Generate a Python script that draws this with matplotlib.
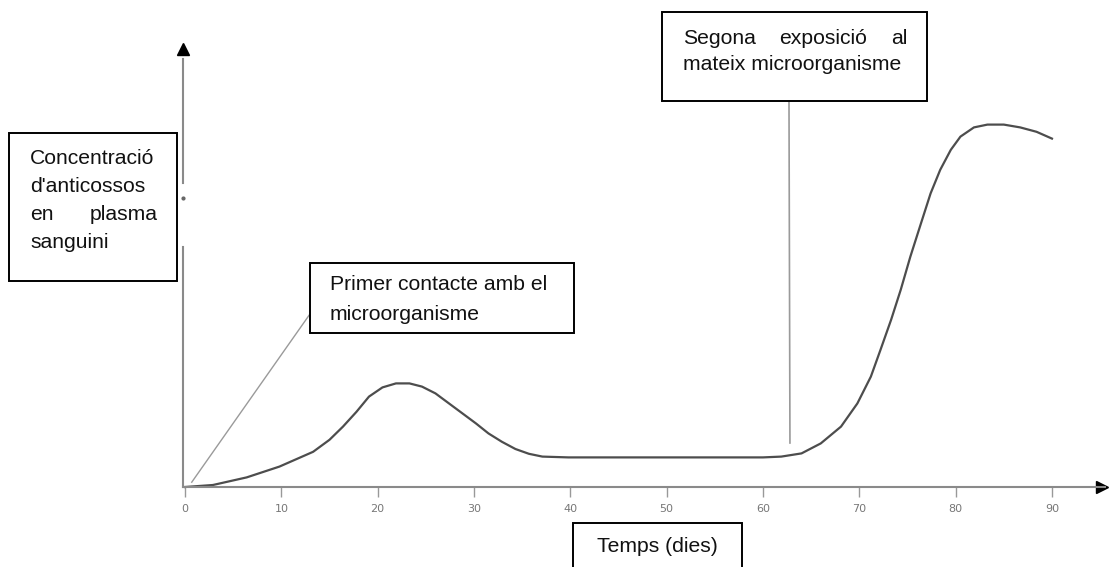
import matplotlib
matplotlib.use("Agg")
import matplotlib.pyplot as plt
from matplotlib.patches import Rectangle

# antibody concentration (days, arbitrary units)
days = [0, 2.9, 6.4, 9.8, 13.3, 15.0, 16.4, 17.8, 19.1, 20.5, 21.9, 23.3,
        24.6, 26.0, 27.4, 28.8, 30.2, 31.5, 32.9, 34.3, 35.7, 37.1, 39.8,
        45, 50, 55, 60, 61.9, 64.0, 66.0, 68.1, 69.8, 71.2, 72.2, 73.3, 74.3,
        75.3, 76.4, 77.4, 78.4, 79.5, 80.5, 81.9, 83.3, 85.0, 86.7, 88.4, 90.0]
conc = [0, 0.5, 2.4, 5.1, 8.8, 11.8, 15.1, 18.8, 22.6, 24.9, 25.9, 25.9,
        25.1, 23.4, 20.9, 18.4, 15.9, 13.4, 11.3, 9.5, 8.3, 7.6, 7.4,
        7.4, 7.4, 7.4, 7.4, 7.6, 8.4, 10.9, 15.1, 20.9, 27.6, 34.3, 41.8, 49.3,
        57.6, 65.9, 73.4, 79.3, 84.3, 87.6, 89.9, 90.6, 90.6, 89.9, 88.8, 87.1]
x_ticks = [0, 10, 20, 30, 40, 50, 60, 70, 80, 90]

W, H = 1110, 567
PX_DAY = 9.633
fig = plt.figure(figsize=(W / 100, H / 100), dpi=100)
ax = fig.add_axes([0, 0, 1, 1])
# 0 days at x=185 px; y=0 at 487 px, 4 px per unit
ax.set_xlim(-185 / PX_DAY, (W - 185) / PX_DAY)
ax.set_ylim(-(H - 487) / 4, 487 / 4)
for s in ['top', 'right', 'left']:
    ax.spines[s].set_visible(False)
ax.spines['bottom'].set_position(('data', 0))
ax.spines['bottom'].set_color('#8a8a8a')
ax.spines['bottom'].set_linewidth(1.5)
ax.spines['bottom'].set_bounds(-0.2, 95.5)
ax.set_yticks([])
ax.set_xticks(x_ticks)
ax.tick_params(axis='x', direction='out', length=7, width=1, color='#999999',
               labelsize=8, labelcolor='#777777', pad=5)

# arrow heads of the axes
ax.plot([95.2], [0], marker='>', color='black', markersize=9, clip_on=False)
ax.plot([-0.2, -0.2], [0, 60], color='#8a8a8a', lw=1.5)
ax.plot([-0.2, -0.2], [76, 107], color='#8a8a8a', lw=1.5)
ax.plot([-0.2], [72.2], marker='o', color='#666666', markersize=2)
ax.plot([-0.2], [109.5], marker='^', color='black', markersize=9, clip_on=False)

ax.plot(days, conc, color='#4d4d4d', lw=1.6, solid_joinstyle='round')

# pointer lines to the boxes
ax.plot([0.7, 12.9], [1.2, 43], color='#9a9a9a', lw=1)
ax.plot([62.8, 62.7], [11, 96.5], color='#9a9a9a', lw=1.2)

FS = 15.2
renderer = fig.canvas.get_renderer()


def box(x0, y0, x1, y1):
    fig.patches.append(Rectangle((x0 / W, 1 - y1 / H), (x1 - x0) / W,
                                 (y1 - y0) / H, transform=fig.transFigure,
                                 fill=True, facecolor='white',
                                 edgecolor='black', lw=1.4))


def txt(x, y, s, ha='left'):
    return fig.text(x / W, 1 - y / H, s, ha=ha, va='center', fontsize=FS,
                    family='Liberation Sans', color='#111111')


def justify(x0, x1, y, words):
    # spread the words of one line evenly between x0 and x1 (pixels)
    items = [txt(x0, y, w) for w in words]
    widths = [t.get_window_extent(renderer).width for t in items]
    gap = (x1 - x0 - sum(widths)) / (len(words) - 1)
    x = x0
    for t, w in zip(items, widths):
        t.set_x(x / W)
        x += w + gap


box(9, 133, 177, 281)
txt(30, 158, "Concentració")
txt(30, 187, "d'anticossos")
justify(30, 158, 215, ["en", "plasma"])
txt(30, 242, "sanguini")

box(662, 12, 927, 101)
justify(683, 907, 39, ["Segona", "exposició", "al"])
txt(683, 64, "mateix microorganisme")

box(310, 263, 574, 333)
txt(330, 284, "Primer contacte amb el")
txt(330, 315, "microorganisme")

box(573, 523, 742, 575)
txt(657, 547, "Temps (dies)", ha='center')

fig.savefig("out.png", dpi=100)
